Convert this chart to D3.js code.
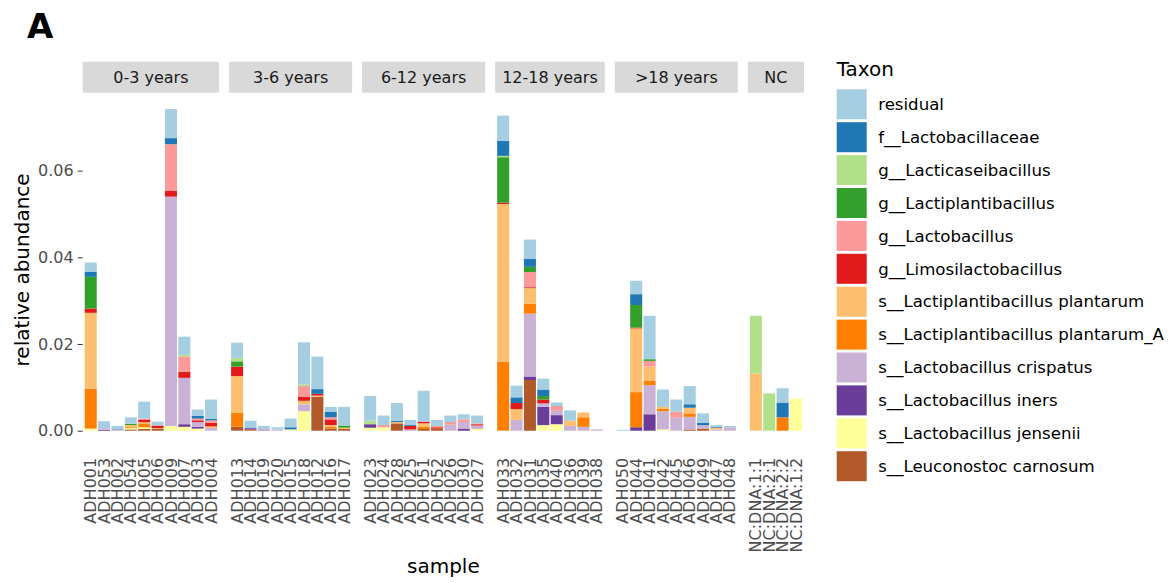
<!DOCTYPE html>
<html>
<head>
<meta charset="utf-8">
<script src="https://cdn.jsdelivr.net/npm/d3@7"></script>
<style>
  body { margin: 0; background: #fff; }
  text { font-family: "DejaVu Sans", sans-serif; }
</style>
</head>
<body>
<svg id="chart" width="1176" height="583"></svg>
<script>
// facets and samples (left to right)
const groups = ['0-3 years', '3-6 years', '6-12 years', '12-18 years', '>18 years', 'NC'];
const samples03 = ['ADH001','ADH053','ADH002','ADH054','ADH005','ADH006','ADH009','ADH007','ADH003','ADH004'];
const samples36 = ['ADH013','ADH014','ADH019','ADH020','ADH015','ADH018','ADH012','ADH016','ADH017'];
const samples612 = ['ADH023','ADH024','ADH028','ADH025','ADH051','ADH052','ADH026','ADH030','ADH027'];
const samples1218 = ['ADH033','ADH032','ADH031','ADH035','ADH040','ADH036','ADH039','ADH038'];
const samples18 = ['ADH050','ADH044','ADH041','ADH042','ADH045','ADH046','ADH049','ADH047','ADH048'];
const samplesNC = ['NC:DNA:1:1','NC:DNA:2:1','NC:DNA:2:2','NC:DNA:1:2'];
const samplesByGroup = [samples03, samples36, samples612, samples1218, samples18, samplesNC];

// legend order (first = top of stack)
const taxa = [
  'residual', 'f__Lactobacillaceae', 'g__Lacticaseibacillus', 'g__Lactiplantibacillus',
  'g__Lactobacillus', 'g__Limosilactobacillus', 's__Lactiplantibacillus plantarum',
  's__Lactiplantibacillus plantarum_A', 's__Lactobacillus crispatus', 's__Lactobacillus iners',
  's__Lactobacillus jensenii', 's__Leuconostoc carnosum'
];
const taxonColors = ['#A6CEE3','#1F78B4','#B2DF8A','#33A02C','#FB9A99','#E31A1C',
                     '#FDBF6F','#FF7F00','#CAB2D6','#6A3D9A','#FFFF99','#B15928'];

// relative abundance per taxon, same order as the samples above
// groups: 0-3 years (10) | 3-6 years (9) | 6-12 years (9) | 12-18 years (8) | >18 years (9) | NC (4)
const residual = [0.0021,0.0016,0.0007,0.0015,0.0039,0.0009,0.0067,0.0042,0.0015,0.0045, 0.0035,0.0017,0.0007,0.0005,0.0020,0.0097,0.0075,0.0011,0.0043, 0.0057,0.0022,0.0041,0.0012,0.0071,0.0014,0.0015,0.0012,0.0018, 0.0058,0.0027,0.0044,0.0025,0.0008,0.0024,0,0, 0.0002,0.0031,0.0100,0.0040,0.0028,0.0042,0.0022,0.0004,0.0003, 0,0,0.0033,0];
const lactobacillaceae = [0.0012,0,0.0001,0,0,0,0.0014,0,0.0006,0.0003, 0,0,0,0,0.0005,0,0.0011,0.0013,0, 0,0,0.0003,0.0002,0,0,0,0,0, 0.0035,0.0013,0.0019,0.0015,0,0,0,0, 0,0.0025,0,0,0,0.0008,0.0005,0.0002,0, 0,0,0.0034,0];
const lacticaseibacillus = [0,0,0,0,0,0,0,0.0004,0,0, 0.0008,0,0,0,0,0.0004,0,0,0, 0.0008,0,0,0,0,0,0,0,0, 0.0003,0,0,0,0,0,0,0, 0,0,0,0,0,0,0,0,0, 0.0133,0.0086,0,0];
const lactiplantibacillus = [0.0073,0,0,0.0003,0,0,0,0,0,0, 0.0012,0,0,0,0,0,0,0,0.0005, 0,0,0,0,0,0,0,0,0, 0.0105,0,0.0012,0.0008,0,0,0,0, 0,0.0052,0.0004,0,0,0,0,0,0, 0,0,0,0];
const lactobacillus = [0,0,0,0,0.0002,0,0.0107,0.0035,0.0004,0.0006, 0,0,0,0,0,0.0025,0,0.0005,0, 0,0.0005,0,0,0,0.0003,0.0006,0.0006,0.0002, 0,0,0.0035,0,0.0011,0,0,0, 0,0,0.0013,0,0.0014,0,0,0,0, 0,0,0,0];
const limosilactobacillus = [0.0010,0,0,0,0.0006,0.0006,0.0014,0.0014,0.0004,0.0008, 0.0022,0,0,0,0,0.0009,0.0004,0.0013,0, 0,0,0,0.0008,0.0004,0.0003,0,0,0.0003, 0.0003,0.0014,0.0002,0.0009,0,0,0,0, 0,0.0002,0,0,0,0,0,0,0, 0,0,0,0];
const lpPlantarum = [0.0175,0,0,0.0005,0.0003,0.0002,0,0,0,0.0004, 0.0085,0,0,0,0,0.0008,0.0003,0.0004,0.0003, 0,0,0.0003,0,0.0008,0,0,0,0, 0.0364,0.0025,0.0036,0,0,0.0012,0.0011,0, 0,0.0147,0.0032,0.0004,0,0.0013,0,0.0004,0, 0.0132,0,0,0];
const lpPlantarumA = [0.0092,0,0,0.0002,0.0009,0,0,0,0,0, 0.0032,0,0,0,0,0,0,0.0004,0, 0,0,0,0,0.0005,0,0,0,0, 0.0159,0,0.0023,0,0,0,0.0022,0, 0,0.0081,0.0011,0.0006,0,0.0008,0,0,0, 0,0,0.0031,0];
const lCrispatus = [0,0.0004,0.0003,0,0,0,0.0529,0.0107,0.0011,0.0006, 0,0,0.0003,0.0003,0,0.0016,0,0,0, 0,0,0,0.0003,0,0,0.0014,0.0015,0.0008, 0,0.0025,0.0145,0.0008,0.0010,0.0011,0.0009,0.0003, 0,0,0.0067,0.0042,0.0030,0.0029,0.0008,0.0003,0.0008, 0,0,0,0];
const lIners = [0,0.0002,0,0,0,0,0,0.0006,0.0004,0, 0,0.0003,0.0001,0,0,0,0,0,0, 0.0008,0,0,0,0,0,0,0.0005,0, 0,0,0.0008,0.0042,0.0021,0,0,0, 0,0.0008,0.0038,0,0,0,0,0,0, 0,0,0,0];
const lJensenii = [0.0005,0,0,0.0003,0.0004,0,0.0011,0.0009,0.0005,0, 0,0,0,0,0.0003,0.0045,0,0,0, 0.0007,0.0008,0,0,0,0,0,0,0.0004, 0,0,0,0.0013,0.0015,0,0,0, 0,0,0,0.0003,0,0,0,0,0, 0,0,0,0.0074];
const leucCarnosum = [0,0,0,0.0003,0.0004,0.0004,0,0,0,0, 0.0009,0.0003,0,0,0,0,0.0078,0.0005,0.0004, 0,0,0.0017,0,0.0004,0.0005,0,0,0, 0,0,0.0117,0,0,0,0,0, 0,0,0,0,0,0.0003,0.0005,0,0, 0,0,0,0];
const taxonValues = [residual, lactobacillaceae, lacticaseibacillus, lactiplantibacillus, lactobacillus,
  limosilactobacillus, lpPlantarum, lpPlantarumA, lCrispatus, lIners, lJensenii, leucCarnosum];

const yTicks = [0, 0.02, 0.04, 0.06];

// ---- layout ----
const svg = d3.select('#chart');
const panelLeft = 82.7, panelRight = 804, panelGap = 10;
const panelTop = 93, panelBottom = 446.8;
const stripTop = 61.7, stripH = 31;

const allSamples = samplesByGroup.flat();
const rows = allSamples.map((s, i) => {
  const r = { sample: s };
  taxa.forEach((t, k) => { r[t] = taxonValues[k][i]; });
  return r;
});
const color = d3.scaleOrdinal().domain(taxa).range(taxonColors);

// first legend entry sits on top of the stack
const series = d3.stack().keys(taxa.slice().reverse())(rows);
const maxTotal = d3.max(rows, r => d3.sum(taxa, t => r[t]));
const y = d3.scaleLinear()
  .domain([-0.05 * maxTotal, 1.05 * maxTotal])
  .range([panelBottom, panelTop]);

// free x space: each panel gets n + 0.2 units like ggplot discrete scales
const units = samplesByGroup.map(g => g.length + 0.2);
const unit = (panelRight - panelLeft - panelGap * (groups.length - 1)) / d3.sum(units);
let cursor = panelLeft;
const panels = groups.map((name, i) => {
  const w = units[i] * unit;
  const p = {
    name, x0: cursor, x1: cursor + w,
    x: d3.scaleBand().domain(samplesByGroup[i]).range([cursor, cursor + w]).paddingInner(0.1).paddingOuter(0.15)
  };
  cursor += w + panelGap;
  return p;
});
const scaleOf = {};
panels.forEach(p => p.x.domain().forEach(s => { scaleOf[s] = p.x; }));

// strips
const strips = svg.append('g').selectAll('g').data(panels).enter().append('g');
strips.append('rect')
  .attr('x', d => d.x0).attr('y', stripTop)
  .attr('width', d => d.x1 - d.x0).attr('height', stripH)
  .attr('fill', '#D9D9D9');
strips.append('text')
  .attr('x', d => (d.x0 + d.x1) / 2).attr('y', stripTop + stripH / 2)
  .attr('dy', '0.35em').attr('text-anchor', 'middle')
  .attr('font-size', 16).attr('fill', '#1A1A1A')
  .text(d => d.name);

// bars
svg.append('g').selectAll('g')
  .data(series).enter().append('g')
  .attr('fill', d => color(d.key))
  .selectAll('rect')
  .data(d => d.filter(v => v[1] - v[0] > 0)).enter().append('rect')
  .attr('x', d => scaleOf[d.data.sample](d.data.sample))
  .attr('width', d => scaleOf[d.data.sample].bandwidth())
  .attr('y', d => y(d[1]))
  .attr('height', d => y(d[0]) - y(d[1]));

// y axis (ticks + labels only)
const yAxis = svg.append('g')
  .attr('transform', `translate(${panelLeft},0)`)
  .call(d3.axisLeft(y).tickValues(yTicks).tickFormat(d3.format('.2f')).tickSize(5).tickPadding(4));
yAxis.select('.domain').remove();
yAxis.selectAll('line').attr('stroke', '#333333');
yAxis.selectAll('text').attr('font-size', 16).attr('fill', '#4D4D4D').attr('font-family', '"DejaVu Sans", sans-serif');

// x axis labels, rotated
panels.forEach(p => {
  const g = svg.append('g')
    .attr('transform', `translate(0,${panelBottom})`)
    .call(d3.axisBottom(p.x).tickSize(0));
  g.select('.domain').remove();
  g.selectAll('text')
    .attr('transform', 'rotate(-90)')
    .attr('x', -11).attr('y', 0).attr('dy', '0.35em')
    .attr('text-anchor', 'end')
    .attr('font-size', 16).attr('fill', '#4D4D4D')
    .attr('font-family', '"DejaVu Sans", sans-serif');
});

// titles
svg.append('text')
  .attr('transform', `translate(29,${(panelTop + panelBottom) / 2}) rotate(-90)`)
  .attr('text-anchor', 'middle').attr('font-size', 20).attr('fill', '#000')
  .text('relative abundance');
svg.append('text')
  .attr('x', (panelLeft + panelRight) / 2).attr('y', 573)
  .attr('text-anchor', 'middle').attr('font-size', 20).attr('fill', '#000')
  .text('sample');
svg.append('text')
  .attr('x', 27).attr('y', 38)
  .attr('font-size', 34).attr('font-weight', 'bold').attr('fill', '#000')
  .text('A');

// legend
const legend = svg.append('g').attr('transform', 'translate(836.7,0)');
legend.append('text').attr('x', 0).attr('y', 76)
  .attr('font-size', 20).attr('fill', '#000').text('Taxon');
const item = legend.selectAll('g.item').data(taxa).enter().append('g')
  .attr('class', 'item')
  .attr('transform', (d, i) => `translate(0,${89.3 + i * 32.9})`);
item.append('rect').attr('width', 30).attr('height', 30).attr('fill', d => color(d));
item.append('text').attr('x', 41.5).attr('y', 15).attr('dy', '0.35em')
  .attr('font-size', 16.6).attr('fill', '#000').text(d => d);
</script>
</body>
</html>
